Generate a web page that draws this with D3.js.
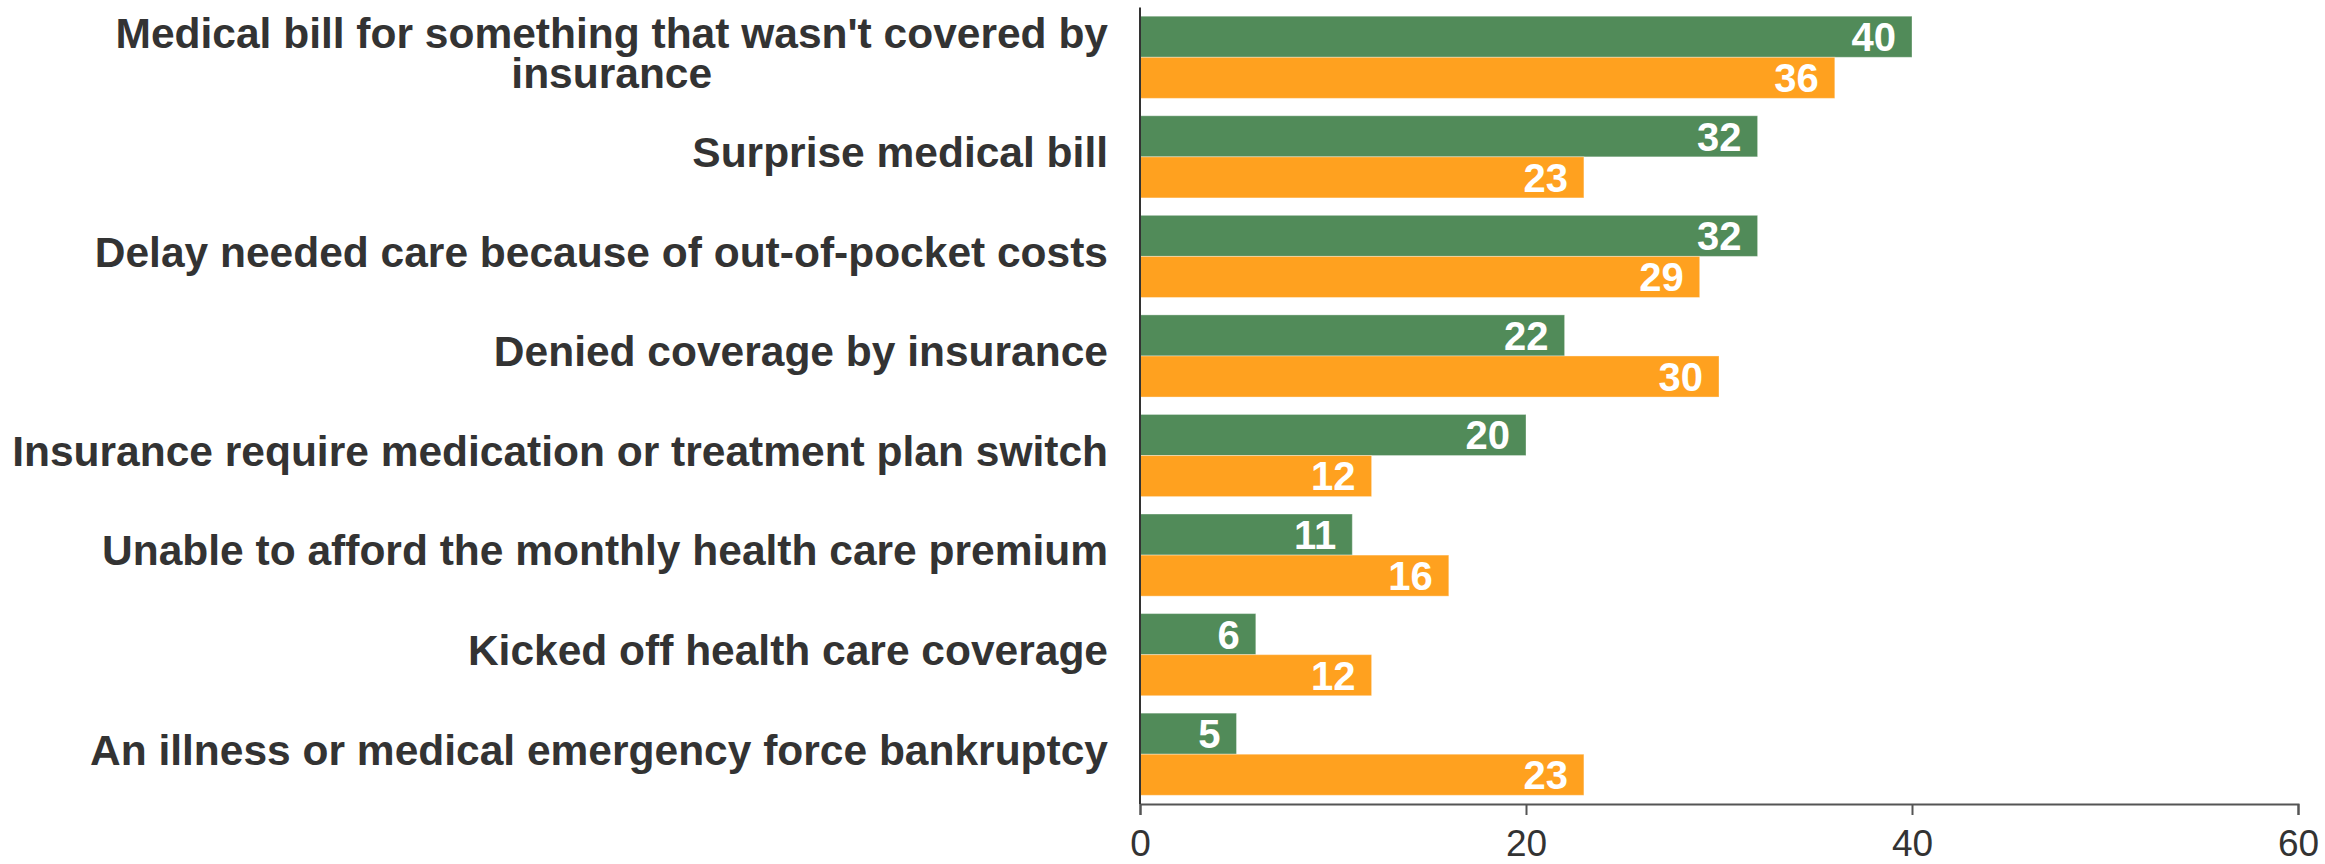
<!DOCTYPE html>
<html>
<head>
<meta charset="utf-8">
<script src="https://cdn.jsdelivr.net/npm/d3@7"></script>
<style>
  body { margin: 0; background: #fff; }
  svg { display: block; font-family: "Liberation Sans", Arial, sans-serif; }
</style>
</head>
<body>
<div id="chart"></div>
<script>
// chart data
const categories = [
  "Medical bill for something that wasn't covered by insurance",
  "Surprise medical bill",
  "Delay needed care because of out-of-pocket costs",
  "Denied coverage by insurance",
  "Insurance require medication or treatment plan switch",
  "Unable to afford the monthly health care premium",
  "Kicked off health care coverage",
  "An illness or medical emergency force bankruptcy"
];
const seriesGreen = [40, 32, 32, 22, 20, 11, 6, 5];
const seriesOrange = [36, 23, 29, 30, 12, 16, 12, 23];
const xTicks = [0, 20, 40, 60];

const width = 2325;
const height = 864;
const plotLeft = 1140, plotRight = 2298, plotTop = 7.5, plotBottom = 804;

const svg = d3.select('#chart')
    .append('svg')
    .attr('width', width)
    .attr('height', height);

const x = d3.scaleLinear().domain([0, 60]).range([plotLeft, plotRight]);

const y0 = d3.scaleBand()
    .domain(categories)
    .range([plotTop, plotBottom])
    .paddingInner(0.175)
    .paddingOuter(0.0875);

const y1 = d3.scaleBand()
    .domain(['green', 'orange'])
    .range([0, y0.bandwidth()]);

const colors = { green: '#518b59', orange: '#ffa11f' };

const rows = categories.map((c, i) => ({
    cat: c,
    vals: [{ key: 'green', v: seriesGreen[i] }, { key: 'orange', v: seriesOrange[i] }]
}));

const groups = svg.selectAll('.grp')
    .data(rows)
    .enter().append('g')
    .attr('class', 'grp')
    .attr('transform', d => `translate(0,${y0(d.cat)})`);

// bars
groups.selectAll('rect')
    .data(d => d.vals)
    .enter().append('rect')
    .attr('x', x(0))
    .attr('y', d => y1(d.key))
    .attr('width', d => x(d.v) - x(0))
    .attr('height', y1.bandwidth())
    .attr('fill', d => colors[d.key])
    .attr('stroke', 'rgba(255,255,255,0.35)')
    .attr('stroke-width', 1);

// value labels
groups.selectAll('text.val')
    .data(d => d.vals)
    .enter().append('text')
    .attr('class', 'val')
    .attr('x', d => x(d.v) - 16)
    .attr('y', d => y1(d.key) + y1.bandwidth() / 2)
    .attr('dy', '0.36em')
    .attr('text-anchor', 'end')
    .attr('fill', '#fff')
    .style('font-weight', 'bold')
    .style('font-size', '40px')
    .text(d => d.v);

// category labels, wrapped; wrapped lines are centred on each other
const labelFont = 42.5;
const lineH = 40;
const maxW = 1120;
const labelRight = 1108;
groups.each(function (d) {
    const g = d3.select(this);
    const t = g.append('text')
        .attr('text-anchor', 'middle')
        .attr('fill', '#333')
        .style('font-weight', 'bold')
        .style('font-size', labelFont + 'px');
    const words = d.cat.split(' ');
    let lines = [];
    let line = [];
    const probe = t.append('tspan');
    words.forEach(w => {
        line.push(w);
        probe.text(line.join(' '));
        if (probe.node().getComputedTextLength() > maxW && line.length > 1) {
            line.pop();
            lines.push(line.join(' '));
            line = [w];
        }
    });
    lines.push(line.join(' '));
    // widest line sets the block width
    let blockW = 0;
    lines.forEach(l => {
        probe.text(l);
        blockW = Math.max(blockW, probe.node().getComputedTextLength());
    });
    probe.remove();
    const cy = y0.bandwidth() / 2;
    lines.forEach((l, i) => {
        t.append('tspan')
            .attr('x', labelRight - blockW / 2)
            .attr('y', cy + (i - (lines.length - 1) / 2) * lineH - 5)
            .attr('dy', '0.36em')
            .text(l);
    });
});

// x axis
const xAxis = svg.append('g')
    .attr('transform', `translate(0,${plotBottom})`)
    .call(d3.axisBottom(x).tickValues(xTicks).tickSize(11).tickPadding(15));
xAxis.select('.domain').attr('stroke', '#555').attr('stroke-width', 2);
xAxis.selectAll('.tick line').attr('stroke', '#555').attr('stroke-width', 2);
xAxis.selectAll('.tick text')
    .attr('fill', '#333')
    .style('font-size', '37px')
    .style('font-family', '"Liberation Sans", Arial, sans-serif');

// y axis line
svg.append('line')
    .attr('x1', x(0)).attr('x2', x(0))
    .attr('y1', plotTop).attr('y2', plotBottom)
    .attr('stroke', '#333')
    .attr('stroke-width', 2);
</script>
</body>
</html>
